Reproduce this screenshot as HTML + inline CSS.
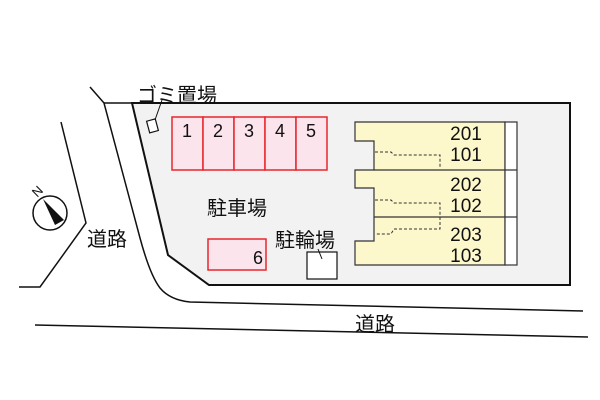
<!DOCTYPE html>
<html><head><meta charset="utf-8"><style>
body{margin:0;background:#fff;}
svg{display:block;}
text{font-family:"Liberation Sans","Noto Sans CJK JP",sans-serif;fill:#111;}
</style></head><body>
<svg width="600" height="400" viewBox="0 0 600 400" xmlns="http://www.w3.org/2000/svg">
<rect width="600" height="400" fill="#fff"/>
<polygon points="132,103 570,103 570,285 209,285 168,255" fill="#f2f2f2" stroke="#111" stroke-width="2"/>
<line x1="104" y1="103" x2="132" y2="103" stroke="#111" stroke-width="1.5"/>
<path d="M90,87 L104,103 L140,238 Q150,275 160,288 Q170,300 190,302 L583,311" fill="none" stroke="#111" stroke-width="1.5"/>
<polyline points="61,122 86,223 40,287 19,287" fill="none" stroke="#111" stroke-width="1.5"/>
<line x1="35" y1="325" x2="588" y2="337" stroke="#111" stroke-width="1.5"/>
<circle cx="50" cy="213" r="17" fill="#fff" stroke="#111" stroke-width="1.5"/>
<polygon points="43,199 64,220 55,225" fill="#111"/>
<text x="37" y="196" font-size="13" transform="rotate(-45 37 191)" text-anchor="middle">N</text>
<rect x="148" y="120" width="9" height="12" fill="#fff" stroke="#111" stroke-width="1.2" transform="rotate(-15 152 126)"/>
<line x1="155" y1="120" x2="162" y2="100" stroke="#111" stroke-width="1"/>
<text x="137" y="102" font-size="20">ゴミ置場</text>
<g fill="#fce4ec" stroke="#e8262c" stroke-width="1.5">
<rect x="172" y="117" width="31" height="53"/><rect x="203" y="117" width="31" height="53"/>
<rect x="234" y="117" width="31" height="53"/><rect x="265" y="117" width="31" height="53"/>
<rect x="296" y="117" width="31" height="53"/>
<rect x="208" y="239" width="58" height="31"/>
</g>
<g font-size="18" text-anchor="middle">
<text x="187" y="137">1</text><text x="218" y="137">2</text><text x="249" y="137">3</text><text x="280" y="137">4</text><text x="311" y="137">5</text>
<text x="258" y="264">6</text>
</g>
<text x="207" y="215" font-size="20">駐車場</text>
<text x="275" y="247" font-size="20">駐輪場</text>
<rect x="307" y="252" width="30" height="27" fill="#fff" stroke="#111" stroke-width="1.2"/>
<line x1="318" y1="249" x2="322" y2="259" stroke="#111" stroke-width="1"/>
<polygon points="355,122 505,122 505,265 355,265 355,241 374,241 374,217 374,188 355,188 355,170 374,170 374,141 355,141" fill="#fdf8cc" stroke="#333" stroke-width="1.2"/>
<rect x="505" y="122" width="12" height="143" fill="#fff" stroke="#333" stroke-width="1.2"/>
<line x1="374" y1="170" x2="517" y2="170" stroke="#333" stroke-width="1.2"/>
<line x1="374" y1="217" x2="517" y2="217" stroke="#333" stroke-width="1.2"/>
<g fill="none" stroke="#333" stroke-width="1" stroke-dasharray="3,2">
<path d="M375,152 L391,152 L394,155 L440,155 L440,167"/>
<path d="M375,200 L391,200 L394,203 L440,203 L440,215"/>
<path d="M440,217 L440,229 L394,229 L391,234 L375,234"/>
</g>
<g font-size="19" text-anchor="middle">
<text x="466" y="140">201</text><text x="466" y="161">101</text>
<text x="466" y="191">202</text><text x="466" y="212">102</text>
<text x="466" y="241">203</text><text x="466" y="262">103</text>
</g>
<text x="87" y="246" font-size="20">道路</text>
<text x="355" y="331" font-size="20">道路</text>
</svg>
</body></html>
